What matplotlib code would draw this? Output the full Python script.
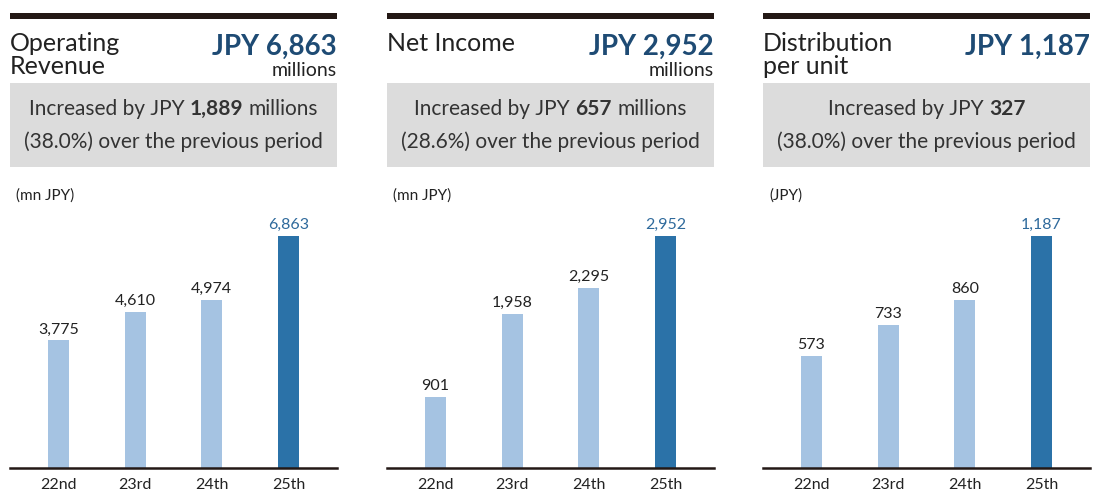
import matplotlib
matplotlib.use('Agg')
import matplotlib.pyplot as plt
from matplotlib.patches import Rectangle

# ---------------- data ----------------
periods = ['22nd', '23rd', '24th', '25th']
operating_revenue = [3775, 4610, 4974, 6863]
net_income = [901, 1958, 2295, 2952]
distribution = [573, 733, 860, 1187]

titles = [['Operating', 'Revenue'], ['Net Income'], ['Distribution', 'per unit']]
headline_values = ['JPY 6,863', 'JPY 2,952', 'JPY 1,187']
headline_units = ['millions', 'millions', '']
increase_amounts = ['1,889', '657', '327']
increase_units = ['millions', 'millions', '']
increase_pcts = ['(38.0%) over the previous period',
                 '(28.6%) over the previous period',
                 '(38.0%) over the previous period']
unit_labels = ['(mn JPY)', '(mn JPY)', '(JPY)']
series = [operating_revenue, net_income, distribution]

# ---------------- style ----------------
W, H, DPI = 1094, 492, 100
FONT = 'Lato'
plt.rcParams['font.family'] = [FONT, 'DejaVu Sans']
RULE = '#231815'
NAVY = '#1e4b74'
TEXT = '#333333'
GREY_BOX = '#dcdcdc'
LIGHT_BAR = '#a5c3e2'
DARK_BAR = '#2b72a8'
DARK_LABEL = '#2f6a9c'

fig = plt.figure(figsize=(W / DPI, H / DPI), dpi=DPI)
fig.patch.set_facecolor('white')
renderer = fig.canvas.get_renderer()


def fx(x):
    return x / W


def fy(y):
    return 1 - y / H


def text_width(s, **kw):
    t = fig.text(0, 0, s, **kw)
    w = t.get_window_extent(renderer).width
    t.remove()
    return w


def mixed_line(pieces, cx, y, size):
    """pieces: list of (string, weight); drawn centred at cx with baseline y."""
    space = text_width('x x', fontsize=size) - text_width('xx', fontsize=size)
    widths = [text_width(s, fontsize=size, fontweight=w) for s, w in pieces]
    total = sum(widths) + space * (len(pieces) - 1)
    x = cx - total / 2
    for (s, w), wd in zip(pieces, widths):
        fig.text(fx(x), fy(y), s, fontsize=size, fontweight=w, color=TEXT,
                 ha='left', va='baseline')
        x += wd + space


panel_lefts = [10, 387, 763]
panel_w = 327
base_y = 468
top_y = 205

for k, left in enumerate(panel_lefts):
    right = left + panel_w
    cx = left + panel_w / 2
    # top rule
    fig.add_artist(Rectangle((fx(left), fy(19)), panel_w / W, 6 / H,
                             transform=fig.transFigure, color=RULE, lw=0))
    # title lines
    for j, line in enumerate(titles[k]):
        fig.text(fx(left), fy(51 + 23 * j), line, fontsize=18, color='#222222',
                 ha='left', va='baseline')
    # headline value
    fig.text(fx(right), fy(55), headline_values[k], fontsize=20,
             fontweight='bold', color=NAVY, ha='right', va='baseline')
    if headline_units[k]:
        fig.text(fx(right), fy(76), headline_units[k], fontsize=14,
                 color='#222222', ha='right', va='baseline')
    # grey box
    fig.add_artist(Rectangle((fx(left), fy(167)), panel_w / W, 84 / H,
                             transform=fig.transFigure, color=GREY_BOX, lw=0))
    pieces = [('Increased by JPY', 'normal'), (increase_amounts[k], 'bold')]
    if increase_units[k]:
        pieces.append((increase_units[k], 'normal'))
    mixed_line(pieces, cx, 115, 15)
    fig.text(fx(cx), fy(148), increase_pcts[k], fontsize=15, color=TEXT,
             ha='center', va='baseline')
    # unit label
    fig.text(fx(left + 6), fy(200), unit_labels[k], fontsize=11, color='#222222',
             ha='left', va='baseline')

    # bar chart
    vals = series[k]
    ax = fig.add_axes([fx(left), fy(base_y), panel_w / W, (base_y - top_y) / H])
    xs = list(range(len(periods)))
    colors = [LIGHT_BAR] * (len(vals) - 1) + [DARK_BAR]
    ax.bar(xs, vals, width=0.274, color=colors, linewidth=0)
    ax.set_xlim(-0.632, 3.632)
    ax.set_ylim(0, max(vals) * (base_y - top_y) / 232)
    for s in ax.spines.values():
        s.set_visible(False)
    ax.axhline(0, color=RULE, lw=1.8, clip_on=False, zorder=5)
    ax.set_yticks([])
    ax.set_xticks(xs, periods)
    ax.tick_params(axis='x', length=0, pad=15, labelsize=11.5, labelcolor='#222222')
    for lbl in ax.get_xticklabels():
        lbl.set_va('baseline')
    for i, v in enumerate(vals):
        ax.annotate(f'{v:,}', xy=(i, v), xytext=(0, 5), textcoords='offset points',
                    ha='center', va='baseline', fontsize=11.5,
                    color=DARK_LABEL if i == len(vals) - 1 else '#222222')
    ax.patch.set_alpha(0)

fig.savefig('out.png', dpi=DPI, facecolor='white')
